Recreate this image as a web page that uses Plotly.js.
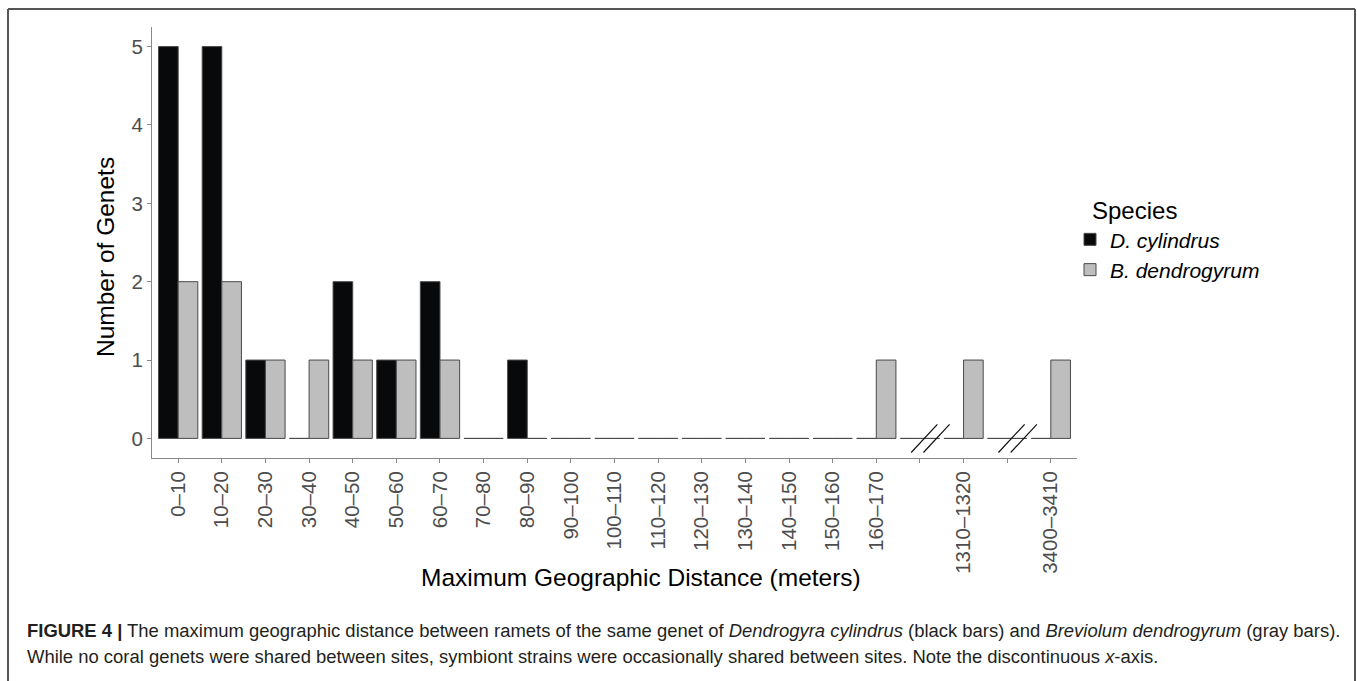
<!DOCTYPE html>
<html>
<head>
<meta charset="utf-8">
<script src="https://cdn.plot.ly/plotly-3.0.1.min.js"></script>
<style>
  html, body { margin: 0; padding: 0; background: #ffffff; }
  #chart { width: 1357px; height: 681px; }
</style>
</head>
<body>
<div id="chart"></div>
<script>
// ---- data ----
const categories = ['0–10','10–20','20–30','30–40','40–50','50–60','60–70','70–80','80–90','90–100',
  '100–110','110–120','120–130','130–140','140–150','150–160','160–170','gap1','1310–1320','gap2','3400–3410'];
const tickLabels = ['0–10','10–20','20–30','30–40','40–50','50–60','60–70','70–80','80–90','90–100',
  '100–110','110–120','120–130','130–140','140–150','150–160','160–170','','1310–1320','','3400–3410'];
const dCylindrus = [5,5,1,0,2,1,2,0,1,0,0,0,0,0,0,0,0,0,0,0,0];
const bDendrogyrum = [2,2,1,1,1,1,1,0,0,0,0,0,0,0,0,0,1,0,1,0,1];
const seriesNames = ['<i>D. cylindrus</i>', '<i>B. dendrogyrum</i>'];
const gapCategories = ['gap1','gap2'];

// ---- geometry helpers (layout only) ----
const W = 1357, H = 681;
const M = {l: 152, r: 280, t: 27, b: 223};
const PW = W - M.l - M.r, PH = H - M.t - M.b;
const px = x => (x - M.l) / PW;
const py = y => (H - M.b - y) / PH;

const FONT = 'Liberation Sans, Arial, Helvetica, sans-serif';
const lineCol = '#4a4a4a';

const traces = [
  {type: 'bar', name: seriesNames[0], x: categories, y: dCylindrus,
   marker: {color: '#08090b', line: {color: lineCol, width: 1}}},
  {type: 'bar', name: seriesNames[1], x: categories, y: bDendrogyrum,
   marker: {color: '#bebebe', line: {color: lineCol, width: 1}}}
];

const shapes = [];
// axis-break marks "//"
gapCategories.forEach(g => {
  const i = categories.indexOf(g);
  [0, 0.28].forEach(off => {
    shapes.push({type: 'line', xref: 'x', yref: 'y',
      x0: i - 0.2 + off, y0: -0.18, x1: i + 0.4 + off, y1: 0.18,
      line: {color: '#111111', width: 1.2}});
  });
});
// figure frame
shapes.push({type: 'line', xref: 'paper', yref: 'paper', x0: px(8), x1: px(1355), y0: py(9), y1: py(9), line: {color: '#555555', width: 2}});
shapes.push({type: 'line', xref: 'paper', yref: 'paper', x0: px(8), x1: px(8), y0: py(9), y1: py(690), line: {color: '#555555', width: 2}});
shapes.push({type: 'line', xref: 'paper', yref: 'paper', x0: px(1355), x1: px(1355), y0: py(9), y1: py(690), line: {color: '#555555', width: 2}});

const annotations = [
  {xref: 'paper', yref: 'paper', x: px(641), y: py(577), text: 'Maximum Geographic Distance (meters)',
   showarrow: false, xanchor: 'center', yanchor: 'middle', font: {family: FONT, size: 24.5, color: '#000000'}},
  {xref: 'paper', yref: 'paper', x: px(105), y: py(257), text: 'Number of Genets', textangle: -90,
   showarrow: false, xanchor: 'center', yanchor: 'middle', font: {family: FONT, size: 24.5, color: '#000000'}},
  {xref: 'paper', yref: 'paper', x: px(25), y: py(630), xanchor: 'left', yanchor: 'middle', showarrow: false, align: 'left',
   text: '<b>FIGURE 4 |</b> The maximum geographic distance between ramets of the same genet of <i>Dendrogyra cylindrus</i> (black bars) and <i>Breviolum dendrogyrum</i> (gray bars).',
   font: {family: FONT, size: 18.45, color: '#231f20'}},
  {xref: 'paper', yref: 'paper', x: px(25), y: py(656), xanchor: 'left', yanchor: 'middle', showarrow: false, align: 'left',
   text: 'While no coral genets were shared between sites, symbiont strains were occasionally shared between sites. Note the discontinuous <i>x</i>-axis.',
   font: {family: FONT, size: 18.45, color: '#231f20'}}
];

const layout = {
  width: W, height: H,
  margin: M,
  paper_bgcolor: '#ffffff', plot_bgcolor: '#ffffff',
  barmode: 'group', bargap: 0.1, bargroupgap: 0,
  font: {family: FONT},
  xaxis: {
    type: 'category', categoryorder: 'array', categoryarray: categories,
    tickmode: 'array', tickvals: categories, ticktext: tickLabels,
    range: [-0.6, categories.length - 1 + 0.6],
    tickangle: -90, tickfont: {family: FONT, size: 20.5, color: '#4d4d4d'},
    ticks: 'outside', ticklen: 4, tickcolor: '#888888', tickwidth: 1,
    showline: true, linecolor: '#888888', linewidth: 1,
    showgrid: false, zeroline: false, fixedrange: true
  },
  yaxis: {
    range: [-0.25, 5.25], tickvals: [0,1,2,3,4,5],
    tickfont: {family: FONT, size: 20.5, color: '#4d4d4d'},
    ticks: 'outside', ticklen: 4, tickcolor: '#888888', tickwidth: 1,
    showline: true, linecolor: '#888888', linewidth: 1,
    showgrid: false, zeroline: false, fixedrange: true
  },
  legend: {
    x: px(1070), y: py(188), xanchor: 'left', yanchor: 'top',
    title: {text: '&nbsp;&nbsp;&nbsp;Species', font: {family: FONT, size: 24, color: '#000000'}},
    font: {family: FONT, size: 21, color: '#000000'},
    bgcolor: 'rgba(0,0,0,0)', tracegroupgap: 0
  },
  shapes: shapes,
  annotations: annotations
};

Plotly.newPlot('chart', traces, layout, {displayModeBar: false, staticPlot: true});
</script>
</body>
</html>
